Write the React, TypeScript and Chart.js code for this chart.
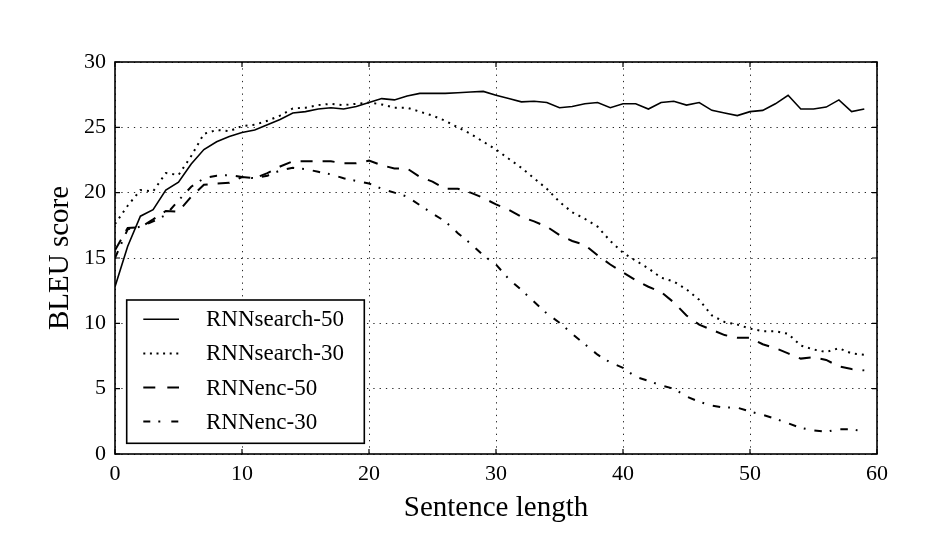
import React, { useEffect, useRef } from "react";
import { Chart, registerables } from "chart.js";

Chart.register(...registerables);

const lengths: number[] = Array.from({ length: 60 }, (_, i) => i);

const rnnSearch50: number[] = [
  12.8, 15.9, 18.2, 18.7, 20.2, 20.8, 22.2, 23.3, 23.9, 24.3,
  24.6, 24.8, 25.2, 25.6, 26.1, 26.2, 26.4, 26.5, 26.4, 26.6,
  26.9, 27.2, 27.1, 27.4, 27.6, 27.6, 27.6, 27.65, 27.7, 27.75,
  27.45, 27.2, 26.95, 27.0, 26.9, 26.5, 26.6, 26.8, 26.9, 26.5,
  26.8, 26.8, 26.4, 26.9, 27.0, 26.7, 26.9, 26.3, 26.1, 25.9,
  26.2, 26.3, 26.8, 27.45, 26.4, 26.4, 26.55, 27.1, 26.2, 26.4,
];

const rnnSearch30: number[] = [
  17.6, 19.0, 20.2, 20.1, 21.5, 21.35, 22.8, 24.5, 24.8, 24.7,
  25.1, 25.2, 25.5, 25.9, 26.45, 26.5, 26.7, 26.8, 26.7, 26.8,
  26.9, 26.75, 26.5, 26.5, 26.2, 25.9, 25.5, 25.0, 24.5, 23.9,
  23.3, 22.6, 21.9, 21.1, 20.3, 19.3, 18.5, 18.0, 17.4, 16.3,
  15.4, 14.8, 14.2, 13.5, 13.2, 12.6, 11.8, 10.6, 10.1, 9.9,
  9.6, 9.4, 9.4, 9.2, 8.3, 8.0, 7.8, 8.1, 7.7, 7.6,
];

const rnnEnc50: number[] = [
  15.6, 17.3, 17.35, 17.95, 18.6, 18.55, 19.7, 20.6, 20.7, 20.75,
  21.2, 21.1, 21.5, 22.0, 22.4, 22.4, 22.4, 22.4, 22.25, 22.25,
  22.45, 22.1, 21.85, 21.85, 21.2, 20.85, 20.3, 20.3, 20.0, 19.6,
  19.1, 18.7, 18.15, 17.8, 17.4, 16.75, 16.3, 16.0, 15.2, 14.5,
  13.9, 13.3, 12.8, 12.4, 11.6, 10.6, 9.9, 9.5, 9.1, 8.9,
  8.9, 8.4, 8.1, 7.7, 7.3, 7.4, 7.2, 6.7, 6.5, 6.4,
];

const rnnEnc30: number[] = [
  15.0, 17.2, 17.4, 17.8, 18.3, 19.4, 20.45, 21.1, 21.3, 21.35,
  21.2, 21.1, 21.3, 21.7, 21.9, 21.8, 21.6, 21.4, 21.1, 20.9,
  20.7, 20.3, 20.0, 19.7, 19.05, 18.4, 17.8, 16.9, 16.1, 15.2,
  14.5, 13.4, 12.55, 11.65, 10.75, 10.05, 9.2, 8.4, 7.6, 7.0,
  6.6, 5.9, 5.6, 5.25, 5.0, 4.4, 4.0, 3.7, 3.55, 3.55,
  3.25, 3.0, 2.7, 2.35, 2.0, 1.8, 1.7, 1.9, 1.9, 1.7,
];

const seriesLabels: string[] = ["RNNsearch-50", "RNNsearch-30", "RNNenc-50", "RNNenc-30"];
const xTicks: number[] = [0, 10, 20, 30, 40, 50, 60];
const yTicks: number[] = [0, 5, 10, 15, 20, 25, 30];

const FONT = "'Liberation Serif', 'Times New Roman', serif";
const dashes: number[][] = [[], [2, 5], [12, 10], [7.5, 8, 1.8, 9]];
const legendDashes: number[][] = [[], [2, 4.6], [12, 12], [7, 8, 2, 11]];

const framePlugin = {
  id: "framePlugin",
  afterDraw(chart: any) {
    const ctx = chart.ctx;
    const { left, right, top, bottom } = chart.chartArea;
    const xs = chart.scales.x;
    const ys = chart.scales.y;
    ctx.save();
    ctx.strokeStyle = "#000";
    ctx.lineWidth = 1.6;
    ctx.setLineDash([]);
    ctx.strokeRect(left, top, right - left, bottom - top);
    ctx.lineWidth = 1.2;
    const tl = 5;
    for (const v of xTicks) {
      const px = xs.getPixelForValue(v);
      ctx.beginPath();
      ctx.moveTo(px, bottom);
      ctx.lineTo(px, bottom - tl);
      ctx.moveTo(px, top);
      ctx.lineTo(px, top + tl);
      ctx.stroke();
    }
    for (const v of yTicks) {
      const py = ys.getPixelForValue(v);
      ctx.beginPath();
      ctx.moveTo(left, py);
      ctx.lineTo(left + tl, py);
      ctx.moveTo(right, py);
      ctx.lineTo(right - tl, py);
      ctx.stroke();
    }
    // legend box
    const bx = left + 11.7;
    const by = bottom - 154;
    const bw = 237.6;
    const bh = 143.3;
    ctx.fillStyle = "#fff";
    ctx.fillRect(bx, by, bw, bh);
    ctx.lineWidth = 1.6;
    ctx.strokeRect(bx, by, bw, bh);
    ctx.font = `23px ${FONT}`;
    ctx.textBaseline = "middle";
    ctx.textAlign = "left";
    ctx.fillStyle = "#000";
    seriesLabels.forEach((lab, i) => {
      const cy = by + 19.3 + i * 34.1;
      ctx.beginPath();
      ctx.lineWidth = i === 0 ? 1.6 : 2;
      ctx.setLineDash(legendDashes[i]);
      ctx.moveTo(bx + 16.6, cy);
      ctx.lineTo(bx + 52.3, cy);
      ctx.stroke();
      ctx.setLineDash([]);
      ctx.fillText(lab, bx + 79.3, cy + 1);
    });
    ctx.restore();
  },
};

export default function App() {
  const ref = useRef<HTMLCanvasElement | null>(null);
  useEffect(() => {
    if (!ref.current) return;
    const allSeries = [rnnSearch50, rnnSearch30, rnnEnc50, rnnEnc30];
    const chart = new Chart(ref.current, {
      type: "line",
      data: {
        datasets: allSeries.map((s, i) => ({
          label: seriesLabels[i],
          data: s.map((v, j) => ({ x: lengths[j], y: v })),
          borderColor: "#000",
          borderWidth: i === 0 ? 1.6 : 2,
          borderDash: dashes[i],
          pointRadius: 0,
          fill: false,
          tension: 0,
        })),
      },
      options: {
        responsive: false,
        animation: false,
        devicePixelRatio: 1,
        layout: { padding: { top: 62, right: 57, left: 0, bottom: 0 } },
        plugins: { legend: { display: false }, tooltip: { enabled: false } },
        scales: {
          x: {
            type: "linear",
            min: 0,
            max: 60,
            afterFit: (s: any) => {
              s.height = 102;
            },
            afterBuildTicks: (s: any) => {
              s.ticks = xTicks.map((v) => ({ value: v }));
            },
            ticks: {
              color: "#000",
              font: { family: FONT, size: 22 },
              padding: 7,
              maxRotation: 0,
            },
            grid: {
              color: "rgba(0,0,0,0.85)",
              lineWidth: 1,
              drawTicks: false,
            },
            border: { display: false, dash: [1.3, 5] },
            title: {
              display: true,
              text: "Sentence length",
              color: "#000",
              font: { family: FONT, size: 29 },
              padding: { top: 0, bottom: 30 },
            },
          },
          y: {
            min: 0,
            max: 30,
            afterFit: (s: any) => {
              s.width = 115;
            },
            afterBuildTicks: (s: any) => {
              s.ticks = yTicks.map((v) => ({ value: v }));
            },
            ticks: {
              color: "#000",
              font: { family: FONT, size: 22 },
              padding: 9,
            },
            grid: {
              color: "rgba(0,0,0,0.85)",
              lineWidth: 1,
              drawTicks: false,
            },
            border: { display: false, dash: [1.3, 5] },
            title: {
              display: true,
              text: "BLEU score",
              color: "#000",
              font: { family: FONT, size: 29 },
              padding: { top: 43, bottom: 0 },
            },
          },
        },
      },
      plugins: [framePlugin],
    });
    return () => chart.destroy();
  }, []);
  return (
    <div style={{ position: "fixed", left: 0, top: 0, width: 934, height: 556, background: "#fff" }}>
      <canvas ref={ref} width={934} height={556} style={{ display: "block" }} />
    </div>
  );
}
